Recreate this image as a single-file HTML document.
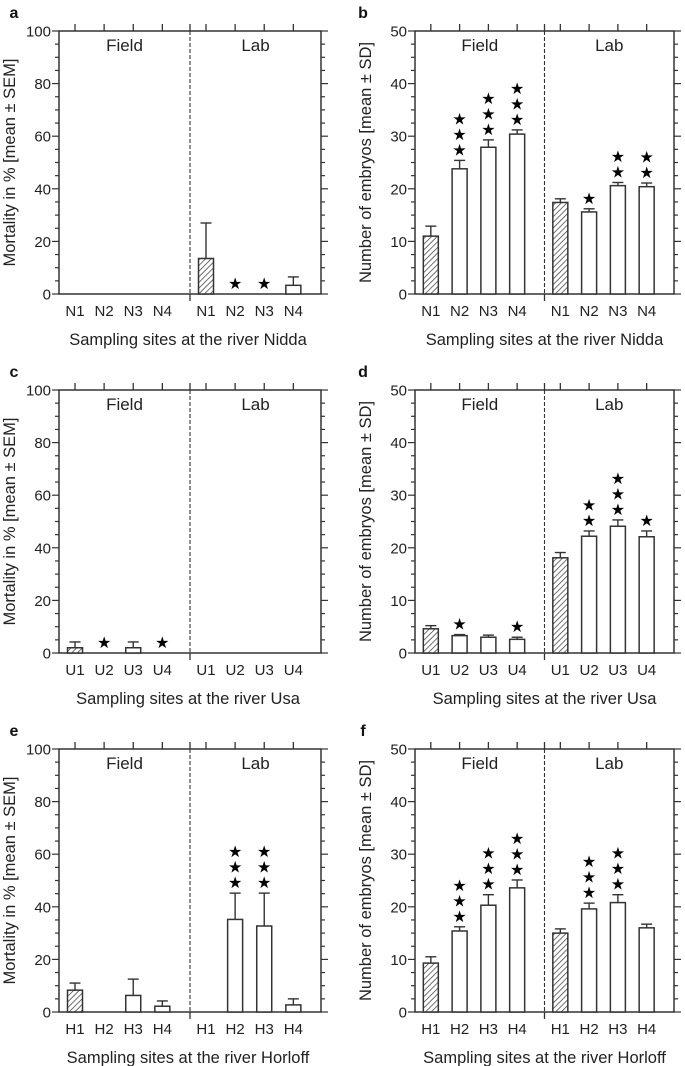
<!DOCTYPE html>
<html><head><meta charset="utf-8"><style>
body{margin:0;background:#fff;}
svg{display:block;font-family:"Liberation Sans",Arial,sans-serif;}
</style></head><body>
<svg id="fig" width="685" height="1066" viewBox="0 0 685 1066">
<defs>
<pattern id="hatch" patternUnits="userSpaceOnUse" width="4" height="4" patternTransform="rotate(45)">
<rect width="4" height="4" fill="#fff"/><line x1="0" y1="0" x2="0" y2="4" stroke="#333" stroke-width="1.4"/>
</pattern>
</defs>
</svg>
<script>
// ---- data ----
const panelLetters = ["a","b","c","d","e","f"];
const rivers = ["Nidda","Nidda","Usa","Usa","Horloff","Horloff"];
const sitePrefix = ["N","N","U","U","H","H"];
const siteNames = ["1","2","3","4"];
const yMax = [100,50,100,50,100,50];
const yMajor = [20,10,20,10,20,10];
// values: field then lab
const aField=[null,null,null,null], aFieldErr=[null,null,null,null], aFieldStars=[0,0,0,0];
const aLab=[13.5,0,0,3.3], aLabErr=[27,null,null,6.5], aLabStars=[0,1,1,0];
const bField=[11,23.8,27.9,30.4], bFieldErr=[12.9,25.4,29.3,31.2], bFieldStars=[0,3,3,3];
const bLab=[17.4,15.6,20.6,20.4], bLabErr=[18.1,16.2,21.2,21.1], bLabStars=[0,1,2,2];
const cField=[2,0,2,0], cFieldErr=[4.2,null,4.2,null], cFieldStars=[0,1,0,1];
const cLab=[null,null,null,null], cLabErr=[null,null,null,null], cLabStars=[0,0,0,0];
const dField=[4.6,3.3,3.0,2.6], dFieldErr=[5.2,3.5,3.4,3.0], dFieldStars=[0,1,0,1];
const dLab=[18.1,22.2,24.1,22.1], dLabErr=[19.1,23.2,25.3,23.2], dLabStars=[0,2,3,1];
const eField=[8.3,null,6.3,2.2], eFieldErr=[11,null,12.5,4.2], eFieldStars=[0,0,0,0];
const eLab=[null,35.2,32.7,2.7], eLabErr=[null,45.2,45.2,5], eLabStars=[0,3,3,0];
const fField=[9.3,15.4,20.3,23.6], fFieldErr=[10.5,16.2,22.3,25.1], fFieldStars=[0,3,3,3];
const fLab=[15.0,19.6,20.8,16.0], fLabErr=[15.8,20.7,22.3,16.7], fLabStars=[0,3,3,0];
const hatchField=[true,true,true,true,true,true];
const hatchLab=[true,true,false,true,false,true];

const panels=[[aField,aFieldErr,aFieldStars,aLab,aLabErr,aLabStars],[bField,bFieldErr,bFieldStars,bLab,bLabErr,bLabStars],
[cField,cFieldErr,cFieldStars,cLab,cLabErr,cLabStars],[dField,dFieldErr,dFieldStars,dLab,dLabErr,dLabStars],
[eField,eFieldErr,eFieldStars,eLab,eLabErr,eLabStars],[fField,fFieldErr,fFieldStars,fLab,fLabErr,fLabStars]];

const svg=document.getElementById('fig');
const NS="http://www.w3.org/2000/svg";
function mk(tag,attrs,parent,text){const e=document.createElementNS(NS,tag);for(const k in attrs)e.setAttribute(k,attrs[k]);if(text!==undefined)e.textContent=text;(parent||svg).appendChild(e);return e;}
const C="#333";
for(let p=0;p<6;p++){
  const col=p%2,row=Math.floor(p/2);
  const L=col?415:59, R=col?674:321, T=31+row*359, B=T+263;
  const W=R-L, step=W/9;
  const g=mk('g',{});
  
  
  const yS=v=>B-(v/yMax[p])*(B-T);
  const xS=(grp,i)=>L+step*(0.55+i+grp*4.45+ (grp?0.05:0));
  const lt=mk('text',{x:col?363:14,y:T-13,'font-size':16,'font-weight':'bold','text-anchor':'middle',fill:'#111'},g,panelLetters[p]);
  
  
  const fr=mk('rect',{x:L,y:T,width:W,height:B-T,fill:'none',stroke:C,'stroke-width':1.5},g);
  
  
  const divX=L+W/2;
  const dv=mk('line',{x1:divX,y1:T,x2:divX,y2:B,stroke:C,'stroke-width':1.1,'stroke-dasharray':'4,2'},g);
  
  
  mk('line',{x1:divX,y1:T,x2:divX,y2:T-7,stroke:C,'stroke-width':1.3},g);
  mk('line',{x1:divX,y1:B,x2:divX,y2:B+7,stroke:C,'stroke-width':1.3},g);
  const nMinor=4;
  for(let v=0;v<=yMax[p]+1e-9;v+=yMajor[p]/nMinor){
    const maj=Math.abs(v/yMajor[p]-Math.round(v/yMajor[p]))<1e-6;
    const y=yS(v),len=maj?7:4;
    mk('line',{x1:L,y1:y,x2:L-len,y2:y,stroke:C,'stroke-width':1.2},g);
    mk('line',{x1:R,y1:y,x2:R+len,y2:y,stroke:C,'stroke-width':1.2},g);
    if(maj){const t=mk('text',{x:L-8,y:y+5.5,'font-size':15,'text-anchor':'end',fill:'#222'},g,String(Math.round(v)));
      
      }
  }
  ['Field','Lab'].forEach((s,k)=>{const t=mk('text',{x:L+W*(k?0.75:0.25),y:T+20,'font-size':17,'text-anchor':'middle',fill:'#222'},g,s);
    
    });
  const yt=mk('text',{transform:`translate(${col?371:15},${(T+B)/2}) rotate(-90)`,'font-size':16.5,'text-anchor':'middle',fill:'#222'},g,
    col?'Number of embryos [mean \u00b1 SD]':'Mortality in % [mean \u00b1 SEM]');
  
  
  const xt=mk('text',{x:(L+R)/2+(col?0:-2),y:B+51,'font-size':16.5,'text-anchor':'middle',fill:'#222'},g,'Sampling sites at the river '+rivers[p]);
  
  
  const d=panels[p];
  for(let grp=0;grp<2;grp++){
    const vals=d[grp*3],errs=d[grp*3+1],stars=d[grp*3+2];
    for(let i=0;i<4;i++){
      const x=xS(grp,i);
      mk('line',{x1:x,y1:T,x2:x,y2:T-7,stroke:C,'stroke-width':1.3},g);
      const tl=mk('text',{x:x,y:B+22,'font-size':15,'text-anchor':'middle',fill:'#222'},g,sitePrefix[p]+siteNames[i]);
      
      
      const v=vals[i];let top=B;
      if(errs[i]!=null){
        mk('line',{x1:x,y1:yS(v),x2:x,y2:yS(errs[i]),stroke:C,'stroke-width':1.4},g);
        mk('line',{x1:x-5.5,y1:yS(errs[i]),x2:x+5.5,y2:yS(errs[i]),stroke:C,'stroke-width':1.4},g);
        top=yS(errs[i]);
      }
      if(v!=null&&v>0){
        const hatched=i===0&&(grp?hatchLab[p]:hatchField[p]);
        const b=mk('rect',{x:x-7.5,y:yS(v),width:15,height:B-yS(v),fill:hatched?'url(#hatch)':'#fff',stroke:C,'stroke-width':1.5},g);
        
        
        top=Math.min(top,yS(v));
      }
      for(let s=0;s<stars[i];s++){
        const st=mk('text',{x:x,y:top-5-s*15.5,'font-size':16,'text-anchor':'middle',fill:'#000'},g,'\u2605');
        
        
      }
    }
  }
}
</script>
</body></html>
